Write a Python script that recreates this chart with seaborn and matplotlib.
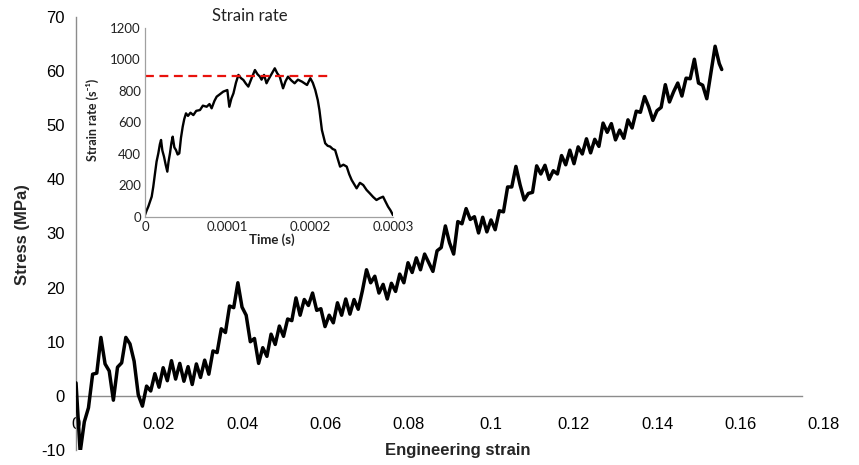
import matplotlib
matplotlib.use("Agg")
import matplotlib.pyplot as plt
import numpy as np
import pandas as pd
import seaborn as sns

# main curve: engineering strain vs stress (MPa)
strain = [
    0.000, 0.001, 0.002, 0.003, 0.004, 0.005, 0.006, 0.007, 0.008, 0.009,
    0.010, 0.011, 0.012, 0.013, 0.014, 0.015, 0.016, 0.017, 0.018, 0.019,
    0.020, 0.021, 0.022, 0.023, 0.024, 0.025, 0.026, 0.027, 0.028, 0.029,
    0.030, 0.031, 0.032, 0.033, 0.034, 0.035, 0.036, 0.037, 0.038, 0.039,
    0.040, 0.041, 0.042, 0.043, 0.044, 0.045, 0.046, 0.047, 0.048, 0.049,
    0.050, 0.051, 0.052, 0.053, 0.054, 0.055, 0.056, 0.057, 0.058, 0.059,
    0.060, 0.061, 0.062, 0.063, 0.064, 0.065, 0.066, 0.067, 0.068, 0.069,
    0.070, 0.071, 0.072, 0.073, 0.074, 0.075, 0.076, 0.077, 0.078, 0.079,
    0.080, 0.081, 0.082, 0.083, 0.084, 0.085, 0.086, 0.087, 0.088, 0.089,
    0.090, 0.091, 0.092, 0.093, 0.094, 0.095, 0.096, 0.097, 0.098, 0.099,
    0.100, 0.101, 0.102, 0.103, 0.104, 0.105, 0.106, 0.107, 0.108, 0.109,
    0.110, 0.111, 0.112, 0.113, 0.114, 0.115, 0.116, 0.117, 0.118, 0.119,
    0.120, 0.121, 0.122, 0.123, 0.124, 0.125, 0.126, 0.127, 0.128, 0.129,
    0.130, 0.131, 0.132, 0.133, 0.134, 0.135, 0.136, 0.137, 0.138, 0.139,
    0.140, 0.141, 0.142, 0.143, 0.144, 0.145, 0.146, 0.147, 0.148, 0.149,
    0.150, 0.151, 0.152, 0.153, 0.154, 0.155, 0.1556,
]
stress = [
    2.4, -10.4, -4.8, -2.2, 4.0, 4.2, 10.8, 5.9, 4.6, -0.8,
    5.3, 6.1, 10.8, 9.6, 6.4, 0.2, -1.9, 1.8, 0.9, 4.1,
    1.6, 5.2, 2.8, 6.5, 3.1, 6.0, 2.7, 5.4, 2.1, 5.9,
    3.4, 6.6, 4.0, 8.3, 8.0, 12.4, 11.7, 16.6, 16.3, 20.9,
    16.4, 14.9, 10.0, 10.6, 6.0, 8.9, 7.3, 11.4, 9.5, 12.9,
    11.0, 14.2, 13.9, 18.1, 14.9, 17.8, 16.7, 19.0, 15.8, 16.1,
    12.8, 14.9, 13.5, 17.2, 14.9, 17.9, 15.1, 17.8, 16.0, 19.4,
    23.3, 20.9, 22.1, 19.0, 20.6, 17.9, 20.8, 19.3, 22.5, 20.9,
    24.6, 22.8, 25.5, 23.3, 26.2, 24.6, 23.0, 26.8, 27.4, 31.4,
    28.3, 26.2, 32.2, 31.8, 34.6, 32.6, 33.1, 30.1, 33.0, 30.3,
    32.5, 30.7, 34.2, 34.0, 38.6, 38.6, 42.4, 39.0, 36.2, 37.4,
    37.6, 42.5, 41.0, 42.6, 40.0, 41.6, 41.0, 44.4, 42.7, 45.4,
    42.9, 46.0, 44.7, 47.5, 44.9, 47.4, 46.1, 50.4, 48.7, 50.3,
    47.3, 49.1, 47.6, 51.0, 49.5, 52.6, 52.4, 55.3, 53.4, 50.9,
    52.7, 53.3, 57.5, 54.3, 56.2, 57.8, 55.4, 58.7, 58.6, 62.2,
    57.8, 57.4, 54.9, 59.8, 64.6, 61.4, 60.3,
]

# inset: time (s) vs strain rate (1/s)
time_s = [
    0.0, 2.0e-6, 4.0e-6, 6.0e-6, 8.1e-6, 1.0e-5, 1.21e-5, 1.4e-5, 1.61e-5, 1.8e-5,
    1.94e-5, 2.1e-5, 2.3e-5, 2.5e-5, 2.7e-5, 2.85e-5, 3.02e-5, 3.2e-5, 3.35e-5, 3.55e-5,
    3.75e-5, 3.95e-5, 4.15e-5, 4.35e-5, 4.56e-5, 4.75e-5, 4.96e-5, 5.2e-5, 5.5e-5, 5.85e-5,
    6.2e-5, 6.65e-5, 7.0e-5, 7.46e-5, 7.8e-5, 8.06e-5, 8.4e-5, 8.67e-5, 9.0e-5, 9.47e-5,
    9.96e-5, 1.02e-4, 1.045e-4, 1.07e-4, 1.1e-4, 1.13e-4, 1.16e-4, 1.19e-4, 1.22e-4, 1.25e-4,
    1.29e-4, 1.33e-4, 1.36e-4, 1.39e-4, 1.41e-4, 1.44e-4, 1.47e-4, 1.49e-4, 1.53e-4, 1.57e-4,
    1.6e-4, 1.63e-4, 1.67e-4, 1.7e-4, 1.73e-4, 1.77e-4, 1.81e-4, 1.85e-4, 1.9e-4, 1.96e-4,
    2.0e-4, 2.03e-4, 2.06e-4, 2.09e-4, 2.11e-4, 2.14e-4, 2.18e-4, 2.21e-4, 2.24e-4, 2.27e-4,
    2.3e-4, 2.33e-4, 2.36e-4, 2.4e-4, 2.44e-4, 2.47e-4, 2.5e-4, 2.56e-4, 2.6e-4, 2.64e-4,
    2.68e-4, 2.72e-4, 2.76e-4, 2.8e-4, 2.84e-4, 2.88e-4, 2.91e-4, 2.94e-4, 2.97e-4, 3.0e-4,
]
strain_rate = [
    11, 40, 64, 95, 127, 190, 275, 350, 402, 460,
    487, 420, 381, 330, 286, 350, 402, 470, 508, 440,
    423, 395, 402, 500, 571, 620, 656, 640, 660, 645,
    672, 677, 705, 698, 715, 688, 735, 762, 775, 794,
    804, 698, 750, 783, 850, 900, 880, 868, 845, 826,
    880, 931, 905, 889, 870, 900, 847, 868, 905, 942,
    910, 889, 815, 860, 889, 865, 847, 870, 857, 836,
    879, 850, 804, 740, 677, 550, 466, 450, 445, 430,
    423, 370, 318, 330, 318, 270, 233, 180, 215, 201,
    170, 148, 125, 106, 118, 127, 95, 64, 40, 10,
]
avg_rate = 890

main_df = pd.DataFrame({"strain": strain, "stress": stress})
inset_df = pd.DataFrame({"time": time_s, "rate": strain_rate})

sns.set_theme(style="white")
plt.rcParams["font.family"] = ["Liberation Sans", "DejaVu Sans"]
plt.rcParams["axes.unicode_minus"] = False

fig = plt.figure(figsize=(8.59, 4.65), dpi=100)
ax = fig.add_axes([0.0885, 0.0323, 0.8696, 0.9311])

sns.lineplot(data=main_df, x="strain", y="stress", ax=ax, color="black",
             lw=2.5, sort=False, estimator=None)
ax.set_xlim(0, 0.18)
ax.set_ylim(-10, 70)
ax.set_xticks(np.arange(0, 0.181, 0.02))
ax.set_yticks(np.arange(-10, 71, 10))
ax.xaxis.set_major_formatter(matplotlib.ticker.FuncFormatter(lambda v, p: f"{v:g}"))
ax.tick_params(axis="both", length=0, labelsize=12, colors="black")
ax.tick_params(axis="x", pad=15)
ax.tick_params(axis="y", pad=8)
for s in ["top", "right"]:
    ax.spines[s].set_visible(False)
ax.spines["bottom"].set_position(("data", 0))
ax.spines["bottom"].set_bounds(0, 0.175)
for s in ["bottom", "left"]:
    ax.spines[s].set_color("#8c8c8c")
    ax.spines[s].set_linewidth(1.0)
    ax.spines[s].set_zorder(1)
ax.set_xlabel("")
ax.set_ylabel("")
fig.text(0.533, 0.032, "Engineering strain", ha="center", va="center",
         fontsize=12, fontweight="bold")
fig.text(0.026, 0.495, "Stress (MPa)", ha="center", va="center",
         rotation=90, fontsize=12, fontweight="bold")

# inset
inset_font = ["Lato", "DejaVu Sans"]
ax2 = fig.add_axes([0.1688, 0.534, 0.2887, 0.4065])
ax2.set_facecolor("white")
sns.lineplot(data=inset_df, x="time", y="rate", ax=ax2, color="black",
             lw=1.7, sort=False, estimator=None)
ax2.axhline(avg_rate, xmax=0.747, color="#e8120c", ls=(0, (4, 2.5)), lw=1.6)
ax2.set_xlim(0, 0.0003)
ax2.set_ylim(0, 1200)
ax2.set_xticks([0, 0.0001, 0.0002, 0.0003])
ax2.set_xticklabels(["0", "0.0001", "0.0002", "0.0003"], family=inset_font)
ax2.set_yticks(np.arange(0, 1201, 200))
ax2.set_yticklabels([str(v) for v in range(0, 1201, 200)], family=inset_font)
ax2.tick_params(axis="both", direction="in", length=3, width=0.8,
                color="#a0a0a0", labelsize=9.5, labelcolor="#222222", pad=3)
for s in ["top", "right"]:
    ax2.spines[s].set_visible(False)
for s in ["bottom", "left"]:
    ax2.spines[s].set_color("#a0a0a0")
    ax2.spines[s].set_linewidth(0.9)
ax2.set_xlabel("")
ax2.set_ylabel("")
fig.text(0.317, 0.484, "Time (s)", ha="center", va="center", fontsize=9.5,
         fontweight="bold", family=inset_font, color="#222222")
fig.text(0.108, 0.742, "Strain rate (s\u207b\u00b9)", ha="center", va="center",
         rotation=90, fontsize=9, fontweight="bold", family=inset_font, color="#222222")
fig.text(0.291, 0.965, "Strain rate", ha="center", va="center", fontsize=12,
         family=inset_font, color="#222222")

fig.savefig("out.png", dpi=100)
